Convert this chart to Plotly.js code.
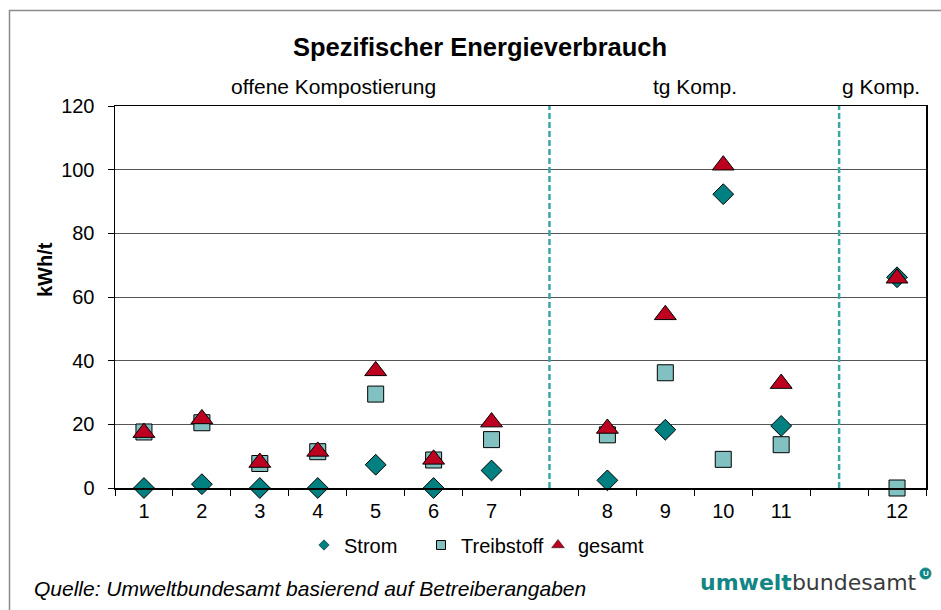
<!DOCTYPE html>
<html>
<head>
<meta charset="utf-8">
<script src="https://cdn.plot.ly/plotly-3.0.1.min.js"></script>
<style>html,body{margin:0;padding:0;background:#fff;}#chart{width:941px;height:610px;}</style>
</head>
<body>
<div id="chart"></div>
<script>
// Category slots along the x axis (blank slots separate the process groups)
var categories = ['1', '2', '3', '4', '5', '6', '7', '\u00a0', '8', '9', '10', '11', '\u00a0\u00a0', '12'];
var plants = ['1', '2', '3', '4', '5', '6', '7', '8', '9', '10', '11', '12'];
var groupSeparators = ['\u00a0', '\u00a0\u00a0'];
var groupLabels = ['offene Kompostierung', 'tg Komp.', 'g Komp.'];

// Values (kWh/t)
var strom =      [0.0, 1.2, 0.0, 0.0, 7.3, 0.0, 5.5, 2.4, 18.3, 92.3, 19.5, 66.2];
var treibstoff = [17.6, 20.5, 7.7, 11.4, 29.5, 8.8, 15.2, 16.7, 36.2, 9.0, 13.6, 0.0];
var gesamt =     [17.4, 21.7, 8.0, 11.5, 36.8, 9.0, 20.7, 18.7, 54.4, 101.4, 32.8, 65.9];

var seriesNames = ['Strom', 'Treibstoff', 'gesamt'];

var FONT = 'Liberation Sans, Arial, sans-serif';
var cStrom = '#008080', cTreib = '#82C1C1', cGes = '#BE0020';

// plot area in px: left 115, right 926, top 106, bottom 488
var L = 115, R = 926, T = 106, B = 488, W = R - L, H = B - T;
function px(x) { return (x - L) / W; }
function py(y) { return (B - y) / H; }

var traces = [
  {type: 'scatter', mode: 'markers', x: plants, y: strom, name: seriesNames[0], showlegend: false, cliponaxis: false,
   marker: {symbol: 'diamond', size: 16, color: cStrom, line: {color: '#000', width: 1}}},
  {type: 'scatter', mode: 'markers', x: plants, y: treibstoff, name: seriesNames[1], showlegend: false, cliponaxis: false,
   marker: {symbol: 'square', size: 16, color: cTreib, line: {color: '#000', width: 1}}},
  {type: 'scatter', mode: 'markers', x: plants, y: gesamt, name: seriesNames[2], showlegend: false, cliponaxis: false,
   marker: {symbol: 'triangle-up', size: 19, color: cGes, line: {color: '#000', width: 1}}},
  // legend entries (small symbols as in the original)
  {type: 'scatter', mode: 'markers', x: [null], y: [null], name: seriesNames[0],
   marker: {symbol: 'diamond', size: 8, color: cStrom, line: {color: '#000', width: 0.5}}},
  {type: 'scatter', mode: 'markers', x: [null], y: [null], name: seriesNames[1],
   marker: {symbol: 'square', size: 9, color: cTreib, line: {color: '#000', width: 1}}},
  {type: 'scatter', mode: 'markers', x: [null], y: [null], name: seriesNames[2],
   marker: {symbol: 'triangle-up', size: 11, color: cGes, line: {color: '#000', width: 0.5}}}
];

var shapes = [
  // outer chart border
  {type: 'rect', xref: 'paper', yref: 'paper', x0: px(9.5), x1: px(960), y0: py(640), y1: py(10.5),
   line: {color: '#8c8c8c', width: 1.5}, fillcolor: 'rgba(0,0,0,0)', layer: 'below'}
];
groupSeparators.forEach(function (c) {
  shapes.push({type: 'line', xref: 'x', yref: 'paper', x0: c, x1: c, y0: 0, y1: 1,
    line: {color: '#3AA6A6', width: 2.5, dash: '6px,3px'}});
});
// logo mark
shapes.push({type: 'circle', xref: 'paper', yref: 'paper', x0: px(920), x1: px(931), y0: py(579), y1: py(568),
  fillcolor: '#148585', line: {color: '#148585', width: 1}});

var annotations = [
  {text: groupLabels[0], xref: 'paper', yref: 'paper', x: px(333), y: py(86), showarrow: false,
   xanchor: 'center', yanchor: 'middle', font: {family: FONT, size: 21, color: '#000'}},
  {text: groupLabels[1], xref: 'paper', yref: 'paper', x: px(695), y: py(86), showarrow: false,
   xanchor: 'center', yanchor: 'middle', font: {family: FONT, size: 21, color: '#000'}},
  {text: groupLabels[2], xref: 'paper', yref: 'paper', x: px(881), y: py(86), showarrow: false,
   xanchor: 'center', yanchor: 'middle', font: {family: FONT, size: 21, color: '#000'}},
  {text: '<b>kWh/t</b>', xref: 'paper', yref: 'paper', x: px(45), y: py(270), showarrow: false,
   textangle: -90, xanchor: 'center', yanchor: 'middle', font: {family: FONT, size: 20, color: '#000'}},
  {text: '<i>Quelle: Umweltbundesamt basierend auf Betreiberangaben</i>', xref: 'paper', yref: 'paper',
   x: px(32), y: py(588), showarrow: false, xanchor: 'left', yanchor: 'middle',
   font: {family: FONT, size: 21, color: '#000'}},
  {text: '<b><span style="color:#148585">umwelt</span></b><span style="color:#3a3a3a">bundesamt</span>',
   xref: 'paper', yref: 'paper', x: px(919), y: py(582), showarrow: false, xanchor: 'right', yanchor: 'middle',
   font: {family: 'DejaVu Sans, sans-serif', size: 22, color: '#148585'}},
  {text: '<b>U</b>', xref: 'paper', yref: 'paper', x: px(925.5), y: py(573.5), showarrow: false,
   xanchor: 'center', yanchor: 'middle', font: {family: FONT, size: 8, color: '#fff'}}
];

var layout = {
  width: 941, height: 610,
  margin: {l: L, r: 941 - R, t: T, b: 610 - B, pad: 0},
  paper_bgcolor: '#fff', plot_bgcolor: '#fff',
  font: {family: FONT, size: 20, color: '#000'},
  title: {text: 'Spezifischer Energieverbrauch', x: 480 / 941, xanchor: 'center', xref: 'container',
    y: 1 - 47 / 610, yanchor: 'middle', yref: 'container',
    font: {family: FONT, size: 25.5, color: '#000', weight: 'bold'}},
  xaxis: {type: 'category', categoryorder: 'array', categoryarray: categories,
    range: [-0.5, categories.length - 0.5], tickson: 'boundaries',
    ticks: 'outside', ticklen: 6, tickcolor: '#000', tickwidth: 1,
    showgrid: false, zeroline: false, showline: true, linecolor: '#000', linewidth: 1.5, mirror: true,
    tickfont: {family: FONT, size: 20, color: '#000'}, ticklabelstandoff: 4, fixedrange: true},
  yaxis: {range: [0, 120], dtick: 20, tick0: 0, ticks: 'outside', ticklen: 6, tickcolor: '#000',
    showgrid: true, gridcolor: '#555', gridwidth: 1, zeroline: false,
    showline: true, linecolor: '#000', linewidth: 1.5, mirror: true,
    tickfont: {family: FONT, size: 20, color: '#000'}, ticklabelstandoff: 9, fixedrange: true},
  showlegend: true,
  legend: {orientation: 'h', x: px(304), xanchor: 'left', y: py(545), yanchor: 'middle',
    font: {family: FONT, size: 20, color: '#000'}, bgcolor: 'rgba(0,0,0,0)',
    entrywidth: 72, entrywidthmode: 'pixels', itemwidth: 30},
  shapes: shapes,
  annotations: annotations
};

Plotly.newPlot('chart', traces, layout, {displayModeBar: false, staticPlot: true});
</script>
</body>
</html>
